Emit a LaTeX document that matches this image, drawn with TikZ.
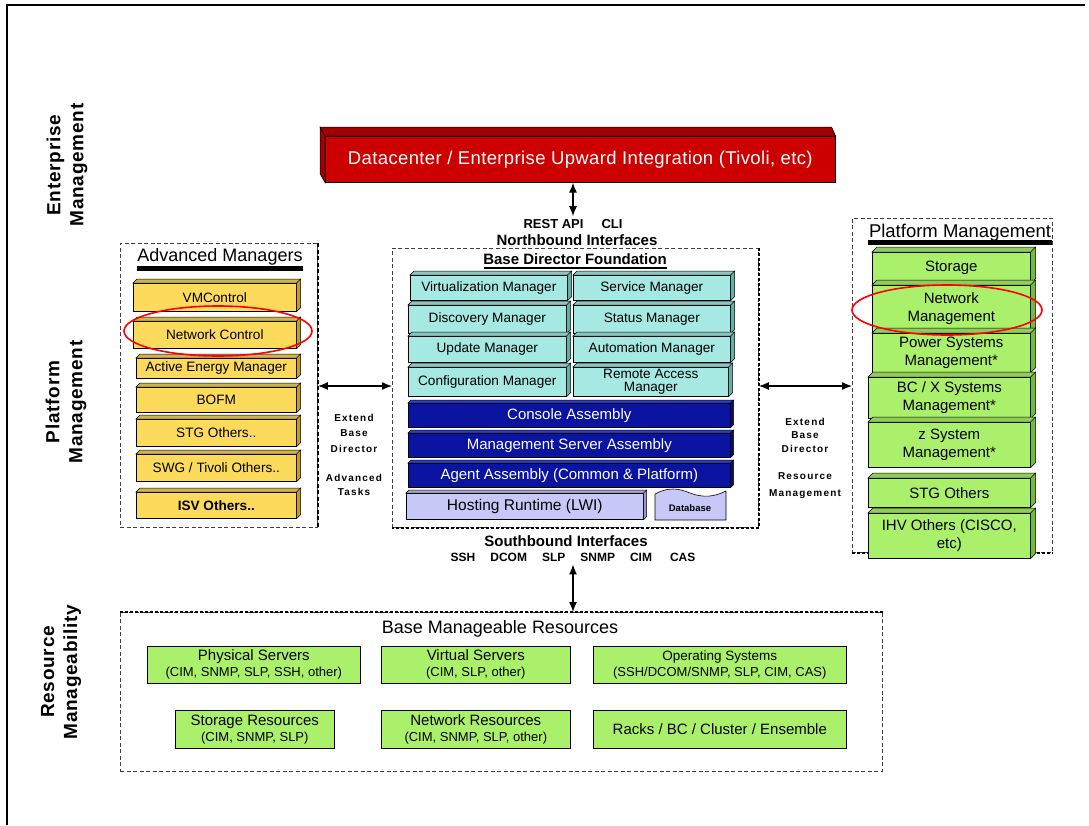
\documentclass[tikz,border=0pt]{standalone}
\usepackage{fontspec}
\setmainfont{Liberation Sans}
\usetikzlibrary{arrows.meta,shapes.geometric}
\definecolor{ylw}{RGB}{252,218,92}
\definecolor{ylwd}{RGB}{190,158,40}
\definecolor{teal1}{RGB}{166,232,226}
\definecolor{teald}{RGB}{100,176,168}
\definecolor{blu}{RGB}{10,20,160}
\definecolor{blut}{RGB}{45,62,200}
\definecolor{lav}{RGB}{200,200,248}
\definecolor{lavd}{RGB}{150,150,210}
\definecolor{grn}{RGB}{170,240,106}
\definecolor{grnd}{RGB}{118,186,58}
\definecolor{rd}{RGB}{204,0,0}
\definecolor{rdd}{RGB}{160,0,0}
\newcommand\fsz[2]{\fontsize{#1}{#2}\selectfont}
\newcommand\boxthree[8]{%
 \node[#6, minimum width=#4, minimum height=#5] (#1) at (#2,#3) {#8};
 \filldraw[#6 top] (#1.north west) -- ++(#7,-#7) -- ([shift={(#7,-#7)}]#1.north east) -- (#1.north east) -- cycle;
 \filldraw[#6 side] (#1.north east) -- ++(#7,-#7) -- ([shift={(#7,-#7)}]#1.south east) -- (#1.south east) -- cycle;}
\tikzset{
 fr/.style={draw=black, line width=0.6, inner sep=0, align=center, anchor=north west},
 facebase/.style={draw=black, line width=0.5},
 yb/.style={fr, fill=ylw, font=\fsz{13.6}{15}},
 yb top/.style={facebase, fill=ylw!82!black},
 yb side/.style={facebase, fill=ylwd},
 tb/.style={fr, fill=teal1, font=\fsz{13.6}{13.5}},
 tb top/.style={facebase, fill=teal1!85!black},
 tb side/.style={facebase, fill=teald},
 bb/.style={fr, fill=blu, text=white, font=\fsz{15}{17}},
 bb top/.style={facebase, fill=blut},
 bb side/.style={facebase, fill=blu!70!black},
 lb/.style={fr, fill=lav, font=\fsz{15.5}{17}},
 lb top/.style={facebase, fill=lav!85!black},
 lb side/.style={facebase, fill=lavd},
 gb/.style={fr, fill=grn, font=\fsz{15}{17.5}},
 gb top/.style={facebase, fill=grn!85!black},
 gb side/.style={facebase, fill=grnd},
 flat/.style={fr, fill=grn, font=\fsz{15}{16}},
 grp/.style={draw=black!75, dash pattern=on 4pt off 2.5pt, line width=0.9, inner sep=0, anchor=north west},
 heavydash/.style={line width=2.8, dash pattern=on 4pt off 2.5pt},
 heavydot/.style={line width=2.8, dash pattern=on 2.5pt off 2.5pt},
 sidelbl/.style={font=\bfseries\fsz{19}{23}\addfontfeature{LetterSpace=4}, align=center, rotate=90},
 small/.style={font=\bfseries\fsz{10}{14}\addfontfeature{LetterSpace=12}, align=center, inner sep=0},
 hdr/.style={font=\bfseries\fsz{15}{17}, inner sep=0},
 dbl/.style={{Latex[length=10pt,width=8pt]}-{Latex[length=10pt,width=8pt]}, line width=1.3},
 oval/.style={draw=red, line width=1.6, ellipse, inner sep=0}
}
\begin{document}
\begin{tikzpicture}[x=1pt,y=-1pt]
\useasboundingbox (0,0) rectangle (1089,825);
\fill[white] (0,0) rectangle (1089,825);
\draw[line width=1.5] (7,825) -- (7,5) -- (1085,5);

% side labels
\node[sidelbl] (lent) at (67,165) {Enterprise\\Management};
\node[sidelbl] (lplat) at (66,402) {Platform\\Management};
\node[sidelbl] (lres) at (61,672) {Resource\\Manageability};

% enterprise box
\node[fr, fill=rd, text=white, font=\fsz{18.5}{20}\addfontfeature{LetterSpace=2}, minimum width=510, minimum height=46] (dc) at (325,136) {Datacenter / Enterprise Upward Integration (Tivoli, etc)};
\filldraw[facebase, fill=rdd] (dc.north west) -- ++(-5,-9) -- ([shift={(-4,-9)}]dc.north east) -- (dc.north east) -- cycle;
\filldraw[facebase, fill=rdd] (dc.north west) -- ++(-5,-9) -- ([shift={(-5,-9)}]dc.south west) -- (dc.south west) -- cycle;

% group frames
\node[grp, minimum width=197, minimum height=284] (adv) at (120,243) {};
\draw[heavydash] (adv.north east) -- (adv.south east);
\node[grp, minimum width=366, minimum height=279] (bdf) at (392,248) {};
\draw[heavydot] (bdf.north east) -- (bdf.south east) -- (bdf.south west);
\node[grp, minimum width=200, minimum height=334] (plat) at (852,218) {};
\draw[heavydot] (plat.south west) -- (plat.south east);
\node[grp, minimum width=762, minimum height=159] (bmr) at (120,612) {};
\draw[heavydot] (bmr.north west) -- (bmr.north east);

% interfaces
\node[font=\bfseries\fsz{13}{14}, inner sep=0] (rest) at (573,224) {REST API\hspace{18pt}CLI};
\node[hdr] (nbi) at (577,240) {Northbound Interfaces};
\node[hdr] (bdft) at (575,259) {Base Director Foundation};
\draw[line width=1.6] (484,268) -- (667,268);
\node[hdr] (sbi) at (566,541) {Southbound Interfaces};
\node[font=\bfseries\fsz{12}{14}, inner sep=0] (sbp) at (573,557) {SSH\hspace{15pt}DCOM\hspace{15pt}SLP\hspace{15pt}SNMP\hspace{15pt}CIM\hspace{18pt}CAS};

% base director foundation contents
\boxthree{virt}{410}{275}{157}{25}{tb}{4}{Virtualization Manager}
\boxthree{serv}{573}{275}{157}{25}{tb}{4}{Service Manager}
\boxthree{disc}{408}{305}{158}{28}{tb}{4}{Discovery Manager}
\boxthree{stat}{573}{305}{157}{28}{tb}{4}{Status Manager}
\boxthree{upd}{408}{336}{158}{26}{tb}{4}{Update Manager}
\boxthree{auto}{573}{336}{157}{26}{tb}{4}{Automation Manager}
\boxthree{conf}{408}{367}{158}{29}{tb}{4}{Configuration Manager}
\boxthree{rem}{573}{367}{155}{29}{tb}{4}{Remote Access\\Manager}
\boxthree{cons}{408}{403}{322}{24}{bb}{3}{Console Assembly}
\boxthree{msa}{408}{433}{322}{24}{bb}{3}{Management Server Assembly}
\boxthree{agt}{408}{463}{322}{24}{bb}{3}{Agent Assembly (Common \& Platform)}
\boxthree{host}{406}{493}{237}{26}{lb}{3}{Hosting Runtime (LWI)}
\filldraw[fill=lav, draw=black, line width=0.6] (655,520) -- (655,494) .. controls (668,487) and (678,488) .. (690,493) .. controls (703,498) and (714,497) .. (726,491) -- (726,520) -- cycle;
\node[font=\bfseries\fsz{9.5}{11}, inner sep=0] (db) at (690,508) {Database};

% advanced managers
\node[font=\fsz{18}{19}, inner sep=0] (advt) at (220,257) {Advanced Managers};
\fill (137,266) rectangle (303,271);
\boxthree{vmc}{133}{283}{163}{28}{yb}{4}{VMControl}
\boxthree{netc}{133}{321}{163}{27}{yb}{4}{Network Control}
\boxthree{aem}{136}{358}{160}{20}{yb}{4}{Active Energy Manager}
\boxthree{bofm}{136}{387}{160}{25}{yb}{4}{BOFM}
\boxthree{stg}{136}{419}{160}{27}{yb}{4}{STG Others..}
\boxthree{swg}{136}{454}{160}{27}{yb}{4}{SWG / Tivoli Others..}
\boxthree{isv}{136}{492}{160}{26}{yb}{4}{\bfseries ISV Others..}

% platform management
\node[font=\fsz{18.5}{19}, inner sep=0] (platt) at (960,233) {Platform Management};
\fill (868,240) rectangle (1052,245);
\boxthree{sto}{872}{252}{158}{31}{gb}{5}{Storage}
\boxthree{netm}{872}{285}{158}{47}{gb}{5}{Network\\Management}
\boxthree{pow}{872}{333}{158}{39}{gb}{5}{Power Systems\\Management*}
\boxthree{bcx}{868}{377}{162}{41}{gb}{5}{BC / X Systems\\Management*}
\boxthree{zsys}{868}{422}{162}{45}{gb}{5}{z System\\Management*}
\boxthree{stgo}{868}{478}{162}{29}{gb}{5}{STG Others}
\boxthree{ihv}{868}{513}{162}{45}{gb}{5}{IHV Others (CISCO,\\etc)}

% base manageable resources
\node[font=\fsz{18}{19}, inner sep=0] (bmrt) at (500,629) {Base Manageable Resources};
\node[flat, minimum width=213, minimum height=37] (phys) at (147,646) {Physical Servers\\{\fsz{13}{14}(CIM, SNMP, SLP, SSH, other)}};
\node[flat, minimum width=189, minimum height=37] (virs) at (381,646) {Virtual Servers\\{\fsz{13}{14}(CIM, SLP, other)}};
\node[flat, minimum width=253, minimum height=37] (ops) at (593,646) {{\fsz{13.5}{15}Operating Systems}\\{\fsz{13}{14}(SSH/DCOM/SNMP, SLP, CIM, CAS)}};
\node[flat, minimum width=159, minimum height=38] (stor) at (175,710) {Storage Resources\\{\fsz{13}{14}(CIM, SNMP, SLP)}};
\node[flat, minimum width=189, minimum height=38] (netr) at (381,710) {Network Resources\\{\fsz{13}{14}(CIM, SNMP, SLP, other)}};
\node[flat, minimum width=253, minimum height=38] (rack) at (593,710) {Racks / BC / Cluster / Ensemble};

% side texts
\node[small, font=\bfseries\fsz{10}{15.5}\addfontfeature{LetterSpace=12}] (ext1) at (354,433) {Extend\\Base\\Director};
\node[small] (adt) at (354,485) {Advanced\\Tasks};
\node[small, font=\bfseries\fsz{10}{13.5}\addfontfeature{LetterSpace=12}] (ext2) at (805,435) {Extend\\Base\\Director};
\node[small, font=\bfseries\fsz{10}{17}\addfontfeature{LetterSpace=12}] (rsm) at (805,486) {Resource\\Management};

% connectors
\coordinate (ya) at (0,386);
\draw[dbl] (rest.north |- dc.south) -- ([yshift=3]rest.north);
\draw[dbl] (adv.east |- ya) -- (bdf.west |- ya);
\draw[dbl] (bdf.east |- ya) -- (plat.west |- ya);
\draw[dbl] ([yshift=-3]sbp.south) -- (sbp.south |- bmr.north);

% highlight ovals
\node[oval, minimum width=188, minimum height=50] (ov1) at (218,331) {};
\node[oval, minimum width=190, minimum height=50] (ov2) at (947,310) {};
\end{tikzpicture}
\end{document}
